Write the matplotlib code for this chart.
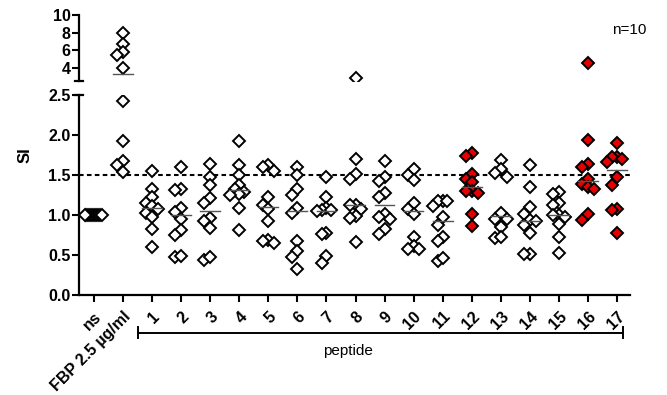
import numpy as np
import matplotlib
matplotlib.use("Agg")
import matplotlib.pyplot as plt
from matplotlib.lines import Line2D

plt.rcParams['font.family'] = ['Liberation Sans', 'DejaVu Sans']

# ---------------- data ----------------
categories = ["ns", "FBP 2.5 \u00b5g/ml"] + [str(i) for i in range(1, 18)]

ns   = [1.0] * 10
fbp  = [8.0, 6.7, 5.8, 5.4, 4.0, 2.42, 1.92, 1.67, 1.62, 1.54]
p1   = [1.55, 1.32, 1.22, 1.15, 1.11, 1.07, 1.03, 0.97, 0.83, 0.60]
p2   = [1.60, 1.33, 1.31, 1.09, 1.04, 0.95, 0.81, 0.75, 0.48, 0.49]
p3   = [1.64, 1.48, 1.37, 1.21, 1.15, 0.96, 0.93, 0.84, 0.44, 0.48]
p4   = [1.93, 1.62, 1.50, 1.37, 1.33, 1.29, 1.26, 1.25, 1.09, 0.81]
p5   = [1.62, 1.60, 1.55, 1.22, 1.12, 1.07, 0.92, 0.69, 0.65, 0.67]
p6   = [1.60, 1.50, 1.33, 1.25, 1.09, 1.02, 0.68, 0.55, 0.47, 0.32]
p7   = [1.48, 1.22, 1.09, 1.06, 1.06, 1.05, 0.78, 0.76, 0.49, 0.40]
p8   = [2.80, 1.70, 1.51, 1.45, 1.13, 1.12, 1.07, 0.99, 0.96, 0.66]
p9   = [1.68, 1.47, 1.42, 1.27, 1.23, 1.01, 0.98, 0.95, 0.82, 0.76]
p10  = [1.57, 1.50, 1.44, 1.15, 1.08, 1.01, 0.73, 0.61, 0.57, 0.58]
p11  = [1.17, 1.17, 1.17, 1.11, 0.97, 0.88, 0.72, 0.67, 0.42, 0.46]
p12  = [1.78, 1.74, 1.51, 1.45, 1.41, 1.30, 1.30, 1.28, 1.01, 0.86]
p13  = [1.69, 1.57, 1.53, 1.48, 1.03, 0.95, 0.95, 0.85, 0.71, 0.73]
p14  = [1.62, 1.35, 1.10, 1.01, 0.94, 0.92, 0.88, 0.77, 0.51, 0.51]
p15  = [1.29, 1.26, 1.15, 1.12, 1.00, 1.00, 0.98, 0.89, 0.72, 0.52]
p16  = [4.50, 1.94, 1.64, 1.60, 1.45, 1.39, 1.35, 1.32, 1.01, 0.94]
p17  = [1.90, 1.73, 1.73, 1.70, 1.66, 1.47, 1.38, 1.07, 1.06, 0.77]

groups = [ns, fbp, p1, p2, p3, p4, p5, p6, p7, p8, p9, p10, p11, p12,
          p13, p14, p15, p16, p17]
highlighted = ["12", "16", "17"]
threshold = 1.5
break_value = 2.5

lower_ticks = [0.0, 0.5, 1.0, 1.5, 2.0, 2.5]
upper_ticks = [4, 6, 8, 10]

# ---------------- layout ----------------
W, H = 667, 395
fig = plt.figure(figsize=(W / 100, H / 100), dpi=100)

def fx(px):
    return px / W

def fy(py):
    return 1 - py / H

ax_lo = fig.add_axes([fx(79), fy(295), fx(630) - fx(79), fy(95) - fy(295)])
ax_hi = fig.add_axes([fx(79), fy(80.7), fx(630) - fx(79), fy(15) - fy(80.7)])

xmin, xmax = -0.52, 18.45

px_per_x = (630 - 79) / (xmax - xmin)
def val_px(v):
    if v <= break_value:
        return v * 80.0
    return 214.3 + (v - break_value) * 8.9

def swarm(vals, step_px=5.8, h_px=8.0, maxhalf=0.33):
    order = np.argsort(-np.asarray(vals), kind="stable")
    placed = []
    offs = np.zeros(len(vals))
    cands = [0]
    for k in range(1, 12):
        cands += [-k, k]
    for i in order:
        y = val_px(vals[i])
        for c in cands:
            x = c * step_px
            ok = True
            for (px_, py_) in placed:
                if abs(py_ - y) < h_px and abs(px_ - x) < step_px * 0.9:
                    ok = False
                    break
            if ok:
                offs[i] = x
                placed.append((x, y))
                break
    offs = offs / px_per_x
    m = np.max(np.abs(offs)) if len(offs) else 0
    if m > maxhalf:
        offs = offs * (maxhalf / m)
    return offs

red = "#e60000"
for ax in (ax_lo, ax_hi):
    ax.set_xlim(xmin, xmax)

for gi, (cat, vals) in enumerate(zip(categories, groups)):
    vals = np.asarray(vals, dtype=float)
    offs = swarm(list(vals))
    face = red if cat in highlighted else "white"
    lo = vals <= break_value
    hi = ~lo
    style = dict(linestyle="none", marker="D", markersize=6.0,
                 markerfacecolor=face, markeredgecolor="black",
                 markeredgewidth=1.4, zorder=3)
    if lo.any():
        ax_lo.plot(gi + offs[lo], vals[lo], **style)
    if hi.any():
        ax_hi.plot(gi + offs[hi], vals[hi], **style)
    if cat != "ns":
        med = float(np.median(vals))
        tgt = ax_lo if med <= break_value else ax_hi
        tgt.plot([gi - 0.34, gi + 0.34], [med, med], color="#555555",
                 lw=1.0, zorder=4)

ax_lo.set_ylim(0.0, break_value)
ax_hi.set_ylim(break_value, 10.0)

ax_lo.axhline(threshold, color="black", lw=1.5, linestyle=(0, (2.2, 1.6)),
              zorder=2)

for ax in (ax_lo, ax_hi):
    ax.spines["top"].set_visible(False)
    ax.spines["right"].set_visible(False)
    ax.spines["left"].set_linewidth(1.6)
ax_lo.spines["bottom"].set_linewidth(1.6)
ax_hi.spines["bottom"].set_visible(False)

tickfont = dict(fontsize=11.5, fontweight="bold")

ax_lo.set_yticks(lower_ticks)
ax_lo.set_yticklabels([f"{t:.1f}" for t in lower_ticks], **tickfont)
ax_hi.set_yticks(upper_ticks)
ax_hi.set_yticklabels([str(t) for t in upper_ticks], **tickfont)
for ax in (ax_lo, ax_hi):
    ax.tick_params(axis="y", direction="out", length=5, width=1.5, pad=1)

ax_hi.set_xticks([])
ax_lo.set_xticks(range(len(categories)))
ax_lo.set_xticklabels(categories, rotation=45, ha="right", va="top",
                      rotation_mode="anchor", **tickfont)
ax_lo.tick_params(axis="x", direction="out", length=5, width=1.5, pad=5)

fig.add_artist(Line2D([fx(75), fx(83)], [fy(80.7), fy(80.7)],
                      color="black", lw=1.6))
fig.add_artist(Line2D([fx(75), fx(83)], [fy(95), fy(95)],
                      color="black", lw=1.6))

fig.text(fx(25), fy(155), "SI", rotation=90, ha="center", va="center",
         fontsize=12, fontweight="bold")

fig.add_artist(Line2D([fx(138), fx(623)], [fy(332.5), fy(332.5)],
                      color="black", lw=1.4))
fig.add_artist(Line2D([fx(138), fx(138)], [fy(327), fy(338)],
                      color="black", lw=1.4))
fig.add_artist(Line2D([fx(623), fx(623)], [fy(327), fy(338)],
                      color="black", lw=1.4))
fig.text(fx(348), fy(351), "peptide", ha="center", va="center",
         fontsize=11)

fig.text(fx(629), fy(30), "n=10", ha="center", va="center", fontsize=11)

fig.savefig("out.png", dpi=100)
